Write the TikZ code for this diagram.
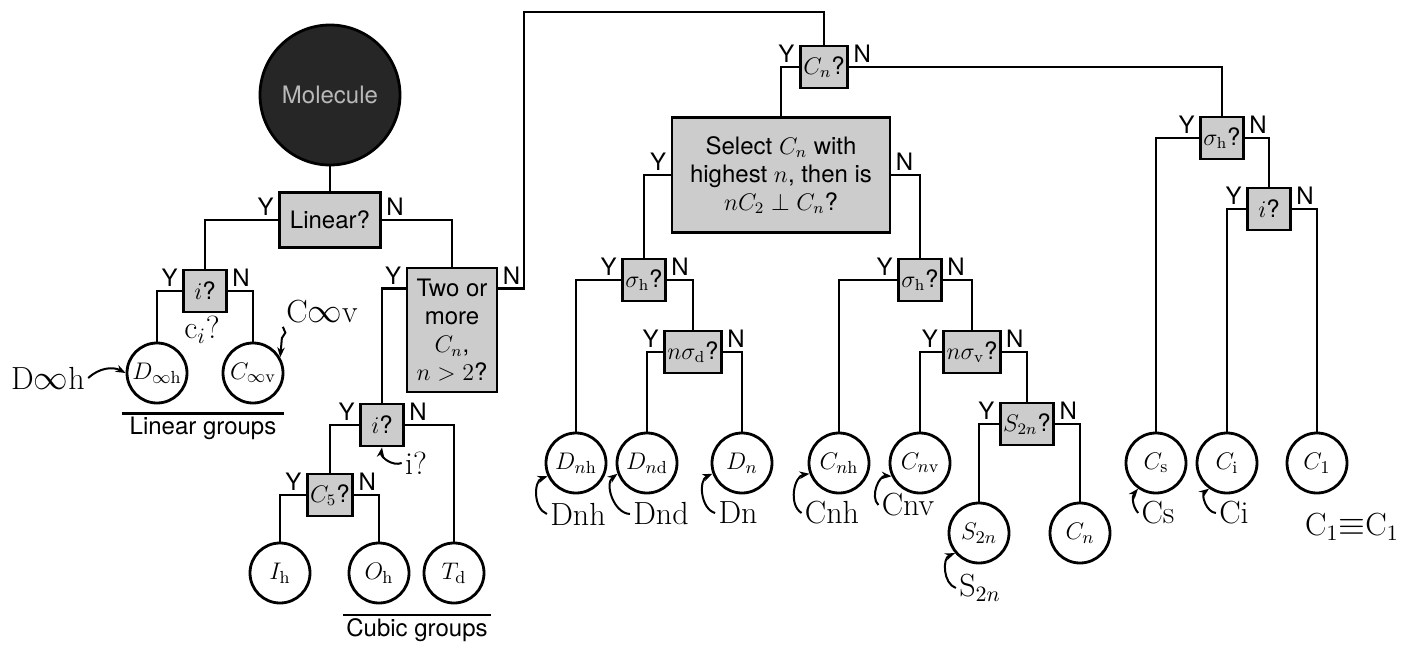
\documentclass[tikz,border=0pt]{standalone}
\usepackage{amsmath,amssymb}
\usepackage{fontspec}
\setsansfont{TeX Gyre Heros}
\usepackage{tikz}
\usetikzlibrary{arrows.meta, positioning, calc, decorations.pathmorphing}

\begin{document}
\begin{tikzpicture}[
    x=0.5pt, y=-0.5pt,
    line width=1.4pt,
    qbox/.style={rectangle, draw, fill=gray!40, minimum width=21.5pt, minimum height=21pt,
                 inner sep=1.5pt, align=center, font=\sffamily\fontsize{12}{14}\selectfont},
    yn/.style={inner sep=1.5pt, font=\sffamily\fontsize{12}{14}\selectfont},
    yesno/.style={label={[yn, anchor=south east]west:Y}, label={[yn, anchor=south west]east:N}},
    grp/.style={circle, draw, fill=white, minimum size=30pt, inner sep=0pt,
                font=\fontsize{12.5}{13}\selectfont},
    mol/.style={circle, draw, fill=black!85, minimum size=70pt, text=gray!55,
                font=\sffamily\fontsize{12}{14}\selectfont},
    grplab/.style={font=\sffamily\fontsize{12}{14}\selectfont, inner sep=1pt},
    hand/.style={font=\rmfamily\fontsize{16}{18}\selectfont, inner sep=1pt},
    harr/.style={-{Stealth[length=5pt]}, line width=1pt},
]
    \useasboundingbox (0,0) rectangle (1414,648);

    % left part: linear and cubic groups
    \node[mol] (mol) at (330,95) {Molecule};
    \node[qbox, yesno, minimum width=50.5pt, minimum height=27.5pt] (lin) at (330,220) {Linear?};
    \node[qbox, yesno] (ilin) at (205,291) {$i$?};
    \node[grp] (dooh) at (157,373) {$D_{\infty\mathrm{h}}$};
    \node[grp] (coov) at (253,373) {$C_{\infty\mathrm{v}}$};
    \node[grplab, minimum width=80pt] (lingrp) at (203,428) {Linear groups};

    \node[qbox, minimum width=45pt, minimum height=62pt,
          label={[yn, anchor=south east, yshift=-11pt]north west:Y},
          label={[yn, anchor=south west, yshift=-11pt]north east:N}] (two) at (452,330)
          {Two or\\more\\$C_n$,\\$n>2$?};
    \node[qbox, yesno] (icub) at (382,425) {$i$?};
    \node[qbox, yesno] (cfive) at (330,495) {$C_5$?};
    \node[grp] (ih) at (280,573) {$I_\mathrm{h}$};
    \node[grp] (oh) at (379,573) {$O_\mathrm{h}$};
    \node[grp] (td) at (454,573) {$T_\mathrm{d}$};
    \node[grplab, minimum width=70pt] (cubgrp) at (417,630) {Cubic groups};
    \coordinate (ntop) at (524,12);

    % right part: axial groups
    \node[qbox, yesno] (cnq) at (824,67) {$C_n$?};
    \node[qbox, yesno, minimum width=109pt, minimum height=57.5pt] (sel) at (781,175)
          {Select $C_n$ with\\highest $n$, then is\\$nC_2\perp C_n$?};
    \node[qbox, yesno] (sha) at (644,280) {$\sigma_\mathrm{h}$?};
    \node[qbox, yesno] (nsd) at (693,352) {$n\sigma_\mathrm{d}$?};
    \node[grp] (dnh) at (576,463) {$D_{n\mathrm{h}}$};
    \node[grp] (dnd) at (647,463) {$D_{n\mathrm{d}}$};
    \node[grp] (dn) at (742,463) {$D_n$};

    \node[qbox, yesno] (shb) at (920,280) {$\sigma_\mathrm{h}$?};
    \node[qbox, yesno] (nsv) at (972,352) {$n\sigma_\mathrm{v}$?};
    \node[grp] (cnh) at (839,463) {$C_{n\mathrm{h}}$};
    \node[grp] (cnv) at (920,463) {$C_{n\mathrm{v}}$};
    \node[qbox, yesno] (stwo) at (1027,424) {$S_{2n}$?};
    \node[grp] (s2n) at (979,533) {$S_{2n}$};
    \node[grp] (cn) at (1080,533) {$C_n$};

    \node[qbox, yesno] (shc) at (1222,138) {$\sigma_\mathrm{h}$?};
    \node[qbox, yesno] (iright) at (1269,209) {$i$?};
    \node[grp] (cs) at (1156,463) {$C_\mathrm{s}$};
    \node[grp] (ci) at (1227,463) {$C_\mathrm{i}$};
    \node[grp] (cone) at (1317,463) {$C_1$};

    % connectors
    \draw (mol) -- (lin);
    \draw (lin.west) -| (ilin.north);
    \draw (lin.east) -| (two.north);
    \draw (ilin.west) -| (dooh.north);
    \draw (ilin.east) -| (coov.north);
    \draw ([yshift=-11pt]two.north west) -| (icub.north);
    \draw ([yshift=-11pt]two.north east) -| (ntop) -| (cnq.north);
    \draw (icub.west) -| (cfive.north);
    \draw (icub.east) -| (td.north);
    \draw (cfive.west) -| (ih.north);
    \draw (cfive.east) -| (oh.north);

    \draw (cnq.west) -| (sel.north);
    \draw (cnq.east) -| (shc.north);
    \draw (sel.west) -| (sha.north);
    \draw (sel.east) -| (shb.north);
    \draw (sha.west) -| (dnh.north);
    \draw (sha.east) -| (nsd.north);
    \draw (nsd.west) -| (dnd.north);
    \draw (nsd.east) -| (dn.north);
    \draw (shb.west) -| (cnh.north);
    \draw (shb.east) -| (nsv.north);
    \draw (nsv.west) -| (cnv.north);
    \draw (nsv.east) -| (stwo.north);
    \draw (stwo.west) -| (s2n.north);
    \draw (stwo.east) -| (cn.north);
    \draw (shc.west) -| (cs.north);
    \draw (shc.east) -| (iright.north);
    \draw (iright.west) -| (ci.north);
    \draw (iright.east) -| (cone.north);

    % group underlines
    \draw (lingrp.north west) -- (lingrp.north east);
    \draw (cubgrp.north west) -- (cubgrp.north east);

    % handwritten notes
    \node[hand] (hdooh) at (48,378) {D$\infty$h};
    \node[hand] (hcilin) at (202,330) {c$_i$?};
    \node[hand] (hcoov) at (322,312) {C$\infty$v};
    \node[hand] (hicub) at (416,463) {i?};
    \node[hand] (hdnh) at (578,514) {Dnh};
    \node[hand] (hdnd) at (661,514) {Dnd};
    \node[hand] (hdn) at (738,513) {Dn};
    \node[hand] (hcnh) at (832,513) {Cnh};
    \node[hand] (hcnv) at (908,505) {Cnv};
    \node[hand] (hs2n) at (980,588) {S$_{2n}$};
    \node[hand] (hcs) at (1158,513) {Cs};
    \node[hand] (hci) at (1234,513) {Ci};
    \node[hand] (hcone) at (1352,527) {C$_1{\equiv}$C$_1$};

    \draw[harr] (hdooh.east) to[bend left=35] (dooh.west);
    \draw[harr, decorate, decoration={snake, amplitude=1.5pt, segment length=9pt, post length=6pt}]
        (hcoov.south west) -- (coov.30);
    \draw[harr] (hicub.west) to[bend left=60] (icub.south);
    \draw[harr] (hdnh.west) to[bend left=70] (dnh.-155);
    \draw[harr] (hdnd.west) to[bend left=70] (dnd.-160);
    \draw[harr] (hdn.west) to[bend left=70] (dn.-160);
    \draw[harr] (hcnh.west) to[bend left=70] (cnh.-160);
    \draw[harr] (hcnv.west) to[bend left=70] (cnv.-155);
    \draw[harr] (hs2n.west) to[bend left=70] (s2n.-140);
    \draw[harr] (hcs.west) to[bend left=40] (cs.-125);
    \draw[harr] (hci.west) to[bend left=70] (ci.-125);
\end{tikzpicture}
\end{document}
